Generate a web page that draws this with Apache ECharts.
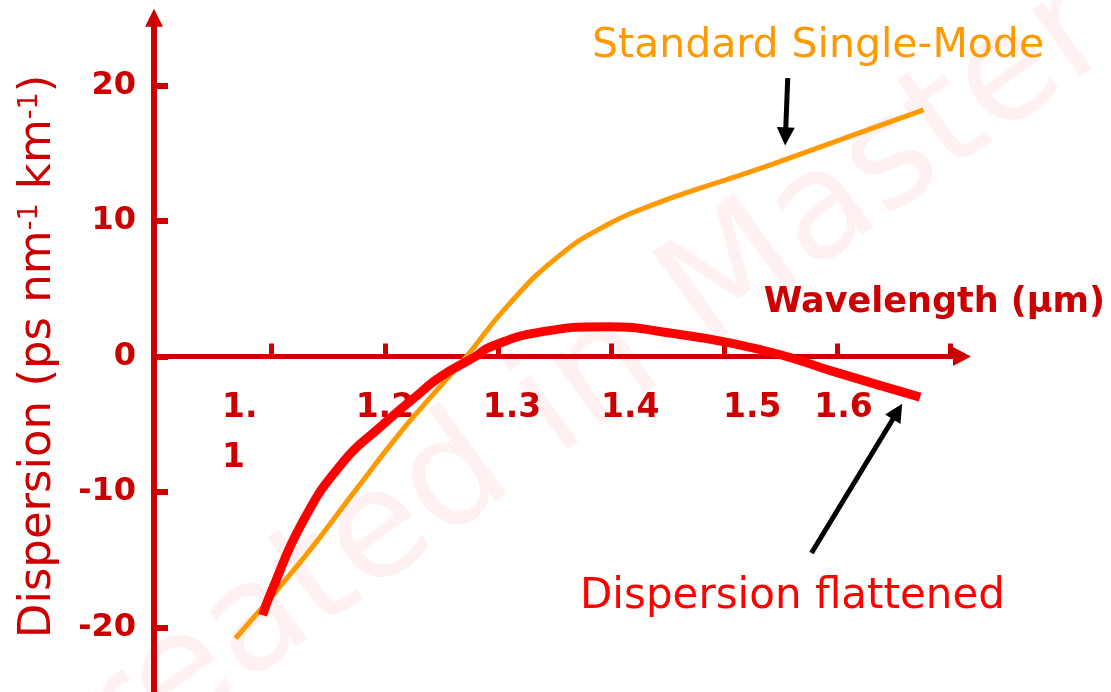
<!DOCTYPE html>
<html>
<head>
<meta charset="utf-8">
<title>Dispersion vs wavelength</title>
<script src="https://cdn.jsdelivr.net/npm/echarts@6/dist/echarts.min.js"></script>
<style>
  html, body { margin: 0; padding: 0; background: #fff; }
  #chart { width: 1111px; height: 692px; }
</style>
</head>
<body>
<div id="chart"></div>
<script>
// axis ticks / labels
const xTicks = [1.1, 1.2, 1.3, 1.4, 1.5, 1.6, 1.7]
const xLabels = [1.1, 1.2, 1.3, 1.4, 1.5, 1.6]
const yTicks = [-20, -10, 0, 10, 20]

// standard single-mode fibre (wavelength um, dispersion ps/nm/km)
const standardWl = [1.068, 1.128, 1.172, 1.207, 1.231, 1.272, 1.308, 1.352, 1.396, 1.440, 1.478, 1.522, 1.566, 1.626, 1.676]
const standardD = [-20.8, -14.9, -10.1, -6.3, -3.9, 0, 3.7, 7.3, 9.7, 11.3, 12.4, 13.6, 14.9, 16.7, 18.2]

// dispersion flattened fibre
const flatWl = [1.092, 1.099, 1.128, 1.163, 1.196, 1.231, 1.249, 1.280, 1.293, 1.337, 1.396, 1.455, 1.511, 1.555, 1.596, 1.673]
const flatD = [-19.1, -17.5, -12.1, -7.8, -5.2, -2.7, -1.5, 0, 0.7, 1.8, 2.2, 1.7, 0.9, 0, -1.1, -3.0]

const axisRed = '#CC0000'
const font = '"DejaVu Sans", Verdana, sans-serif'

// label shift in px, the slide's labels don't sit on their ticks
const labelNudge = { '1.1': -32, '1.2': 0, '1.3': 14, '1.4': 19, '1.5': 28, '1.6': 6 }

const zip = (xs, ys) => xs.map((x, i) => [x, ys[i]])

const rich = {}
xLabels.forEach((v, i) => {
  const d = labelNudge[v.toFixed(1)] || 0
  rich['n' + i] = {
    color: axisRed,
    fontSize: 33,
    fontWeight: 'bold',
    fontFamily: font,
    lineHeight: 50,
    align: i === 0 ? 'left' : 'center',
    padding: d >= 0 ? [0, 0, 0, 2 * d] : [0, -2 * d, 0, 0]
  }
})

const chart = echarts.init(document.getElementById('chart'))

// grid runs from y=17.75 to 695.25, value 0 sits 338.75px above the bottom
chart.setOption({
  animation: false,
  backgroundColor: '#fff',
  grid: { left: 154, top: 17.75, width: 808, height: 677.5, outerBoundsMode: 'none' },
  graphic: [
    {
      type: 'text',
      z: -10,
      x: 14,
      y: 803,
      rotation: 36 * Math.PI / 180,
      silent: true,
      style: {
        text: 'Created in Master PDF Editor',
        font: '150px "DejaVu Sans"',
        fill: '#FFF1F1',
        align: 'left',
        verticalAlign: 'middle'
      }
    },
    {
      type: 'text',
      x: 592,
      y: 46,
      style: {
        text: 'Standard Single-Mode',
        font: '41px "DejaVu Sans"',
        fill: '#FF9900',
        align: 'left',
        verticalAlign: 'middle'
      }
    },
    {
      type: 'text',
      x: 580,
      y: 597,
      style: {
        text: 'Dispersion flattened',
        font: '42px "DejaVu Sans"',
        fill: '#FF0000',
        align: 'left',
        verticalAlign: 'middle'
      }
    }
  ],
  xAxis: {
    type: 'value',
    min: 0.996,
    max: 1.71,
    position: 'bottom',
    offset: -338.75,
    splitLine: { show: false },
    axisLine: {
      onZero: false,
      symbol: ['none', 'triangle'],
      symbolSize: [19, 18],
      lineStyle: { color: axisRed, width: 5 }
    },
    axisTick: {
      inside: true,
      length: 13,
      customValues: xTicks,
      lineStyle: { color: axisRed, width: 5 }
    },
    axisLabel: {
      customValues: xLabels,
      margin: 27,
      formatter: (v) => {
        const i = xLabels.findIndex(x => Math.abs(x - v) < 1e-6)
        if (i === 0) return '{n0|1.}\n{n0|1}'
        return '{n' + i + '|' + v.toFixed(1) + '}'
      },
      rich: rich
    },
    name: 'Wavelength (\u03bcm)',
    nameLocation: 'end',
    nameGap: 143,
    nameTextStyle: {
      color: axisRed,
      fontSize: 35,
      fontWeight: 'bold',
      fontFamily: font,
      align: 'right',
      verticalAlign: 'bottom',
      padding: [0, 0, 36, 0]
    }
  },
  yAxis: {
    type: 'value',
    min: -25,
    max: 25,
    splitLine: { show: false },
    axisLine: {
      onZero: false,
      symbol: ['none', 'triangle'],
      symbolSize: [18, 18],
      lineStyle: { color: axisRed, width: 6 }
    },
    axisTick: {
      inside: true,
      length: 14,
      customValues: yTicks,
      lineStyle: { color: axisRed, width: 6 }
    },
    axisLabel: {
      customValues: yTicks,
      margin: 18,
      color: axisRed,
      fontSize: 32,
      fontWeight: 'bold',
      fontFamily: font
    },
    name: 'Dispersion (ps nm{sup|-1} km{sup|-1})',
    nameLocation: 'middle',
    nameRotate: 90,
    nameGap: 93,
    nameTextStyle: {
      color: axisRed,
      fontSize: 45,
      fontFamily: font,
      rich: {
        sup: { color: axisRed, fontSize: 27, fontFamily: font, verticalAlign: 'top' }
      }
    }
  },
  series: [
    {
      name: 'Standard Single-Mode',
      type: 'line',
      data: zip(standardWl, standardD),
      smooth: 0.5,
      showSymbol: false,
      silent: true,
      z: 3,
      lineStyle: { color: '#FF9900', width: 5 }
    },
    {
      name: 'Dispersion flattened',
      type: 'line',
      data: zip(flatWl, flatD),
      smooth: 0.5,
      showSymbol: false,
      silent: true,
      z: 4,
      lineStyle: { color: '#FF0000', width: 9 },
      markLine: {
        silent: true,
        symbol: ['none', 'triangle'],
        symbolSize: [18, 18],
        label: { show: false },
        lineStyle: { color: '#000', width: 5, type: 'solid' },
        emphasis: { disabled: true },
        data: [
          [{ coord: [1.556, 20.55] }, { coord: [1.554, 16.24] }],
          [{ coord: [1.577, -14.5] }, { coord: [1.653, -4.06] }]
        ]
      }
    }
  ]
})
</script>
</body>
</html>
